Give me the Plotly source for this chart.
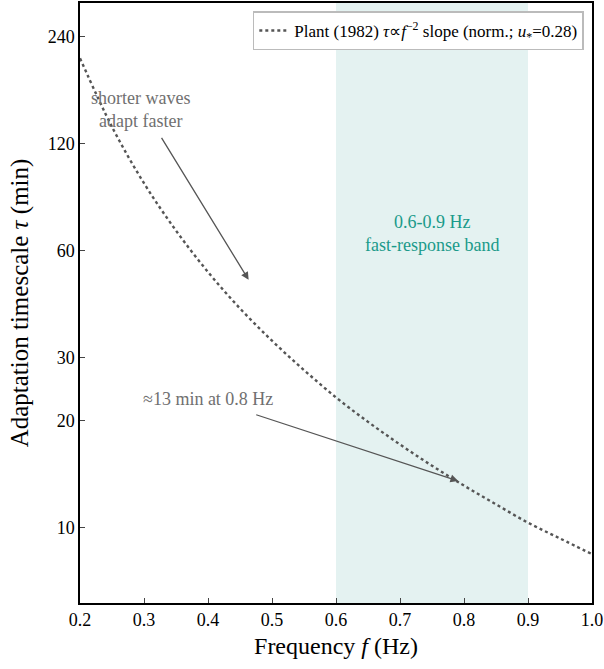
import math
import plotly.graph_objects as go

# Frequencies (Hz) and adaptation timescale (min)
freq = [0.20, 0.25, 0.30, 0.35, 0.40, 0.45, 0.50, 0.55, 0.60, 0.65, 0.70, 0.75, 0.80, 0.85, 0.90, 0.95, 1.00]
tau = [209, 134, 93.0, 68.4, 52.3, 41.3, 33.5, 27.7, 23.2, 19.8, 17.1, 14.9, 13.1, 11.6, 10.3, 9.3, 8.4]

band = [0.6, 0.9]
x_ticks = [0.2, 0.3, 0.4, 0.5, 0.6, 0.7, 0.8, 0.9, 1.0]
x_ticklabels = ["0.2", "0.3", "0.4", "0.5", "0.6", "0.7", "0.8", "0.9", "1.0"]
y_ticks = [10, 20, 30, 60, 120, 240]
y_ticklabels = ["10", "20", "30", "60", "120", "240"]

FONT = "Liberation Serif"
L = math.log10

fig = go.Figure()
fig.add_trace(go.Scatter(
    x=freq, y=tau, mode="lines", line_shape="spline",
    line=dict(color="#555555", width=2.4, dash="dot"),
    name="Plant (1982) <i>τ</i>∝<i>f</i><sup>−2</sup> slope (norm.; <i>u</i><sub>*</sub>=0.28)",
))

fig.add_shape(type="rect", xref="x", yref="paper", x0=band[0], x1=band[1], y0=0, y1=1,
              fillcolor="#e4f2f1", line=dict(width=0), layer="below")

fig.add_annotation(x=0.75, y=L(67), xref="x", yref="y", showarrow=False,
                   text="0.6-0.9 Hz<br>fast-response band",
                   font=dict(family=FONT, size=18, color="#1a9a8a"))

fig.add_annotation(x=0.294, y=L(150), xref="x", yref="y", showarrow=False,
                   text="shorter waves<br>adapt faster",
                   font=dict(family=FONT, size=18, color="#707070"))
fig.add_annotation(x=0.4635, y=L(49.7), xref="x", yref="y", ax=0.326, ay=L(125.9),
                   axref="x", ayref="y", text="", showarrow=True,
                   arrowhead=2, arrowsize=1.2, arrowwidth=1.3, arrowcolor="#555555")

fig.add_annotation(x=0.40, y=L(23.0), xref="x", yref="y", showarrow=False,
                   text="≈13 min at 0.8 Hz",
                   font=dict(family=FONT, size=18, color="#707070"))
fig.add_annotation(x=0.791, y=L(13.5), xref="x", yref="y", ax=0.473, ay=L(20.8),
                   axref="x", ayref="y", text="", showarrow=True,
                   arrowhead=2, arrowsize=1.2, arrowwidth=1.3, arrowcolor="#555555")

fig.update_layout(
    width=604, height=669,
    margin=dict(l=80, r=11, t=1, b=66),
    plot_bgcolor="white", paper_bgcolor="white",
    font=dict(family=FONT, size=18, color="black"),
    showlegend=True,
    legend=dict(x=0.984, y=0.986, xanchor="right", yanchor="top",
                bgcolor="white", bordercolor="#bbbbbb", borderwidth=1.5,
                font=dict(family=FONT, size=17, color="black")),
    xaxis=dict(range=[0.2, 1.0], tickvals=x_ticks, ticktext=x_ticklabels,
               ticks="inside", ticklen=5, tickwidth=1.2, showgrid=False, zeroline=False,
               showline=True, linecolor="black", linewidth=1.5, mirror=True,
               ticklabeloverflow="allow",
               tickfont=dict(family=FONT, size=18),
               title=dict(text="Frequency <i>f</i> (Hz)", font=dict(family=FONT, size=24), standoff=8)),
    yaxis=dict(type="log", range=[0.7868, 2.4757], tickvals=y_ticks, ticktext=y_ticklabels,
               ticks="inside", ticklen=5, tickwidth=1.2, showgrid=False, zeroline=False,
               showline=True, linecolor="black", linewidth=1.5, mirror=True,
               tickfont=dict(family=FONT, size=18),
               title=dict(text="Adaptation timescale <i>τ</i> (min)", font=dict(family=FONT, size=25), standoff=12)),
)

fig.write_html("out.html")
